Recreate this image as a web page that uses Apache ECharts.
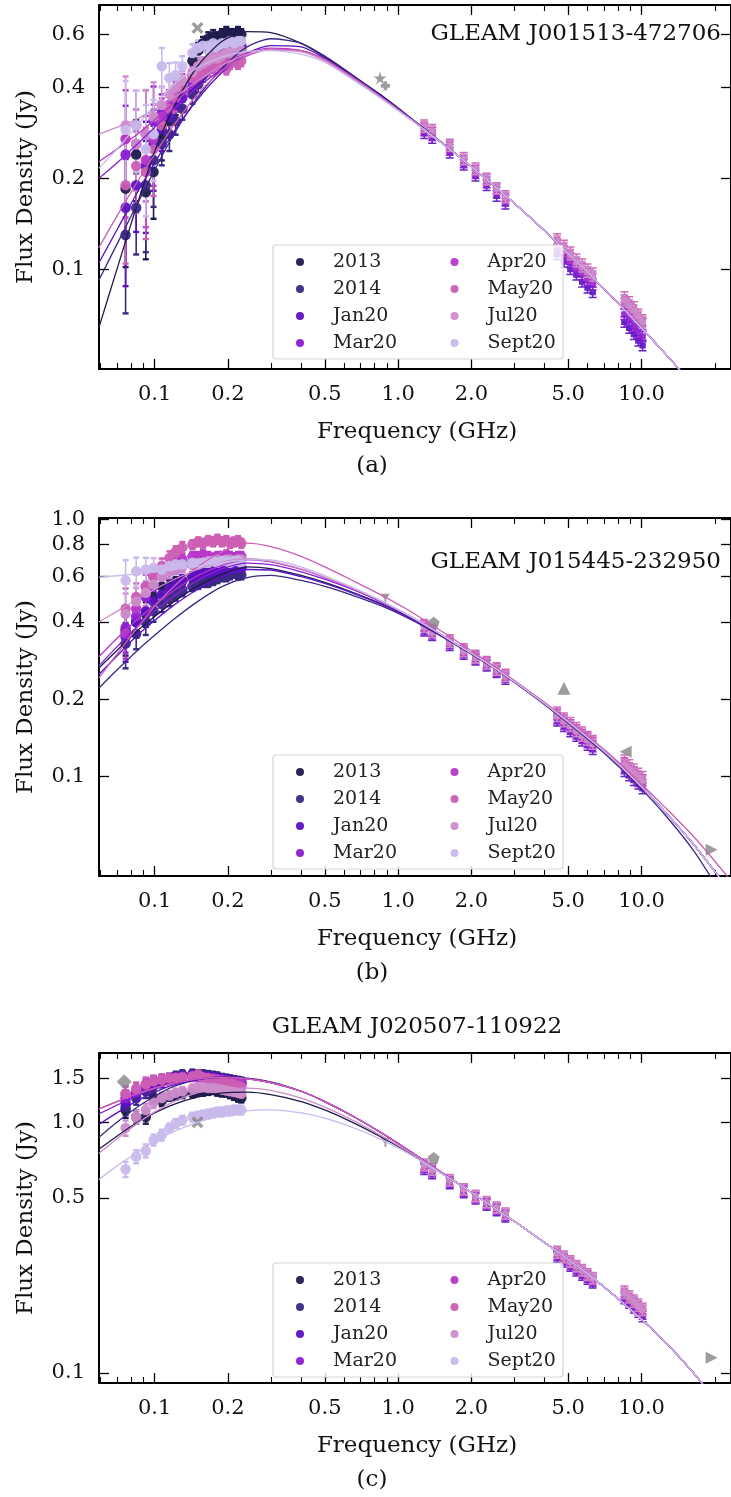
<!DOCTYPE html>
<html><head><meta charset="utf-8">
<script src="https://cdn.jsdelivr.net/npm/echarts@6/dist/echarts.min.js"></script>
<style>html,body{margin:0;padding:0;background:#fff}#c{width:731px;height:1497px}</style>
</head><body><div id="c"></div>
<script>
// ---------------- data ----------------
const EPOCHS = ['2013','2014','Jan20','Mar20','Apr20','May20','Jul20','Sept20'];
const COLORS = ['#1f1b4d','#3b2883','#5b12c2','#8b1fd2','#b637c9','#cc5eb4','#cd8dcb','#c9b9ec'];
const ATCA_EPOCHS = ['Jan20','Mar20','Apr20','May20','Jul20'];
const MWA_FREQ = [0.076,0.084,0.092,0.099,0.107,0.115,0.122,0.130,0.143,0.151,0.158,0.166,0.174,0.181,0.189,0.197,0.204,0.212,0.220,0.227];
const ATCA_FREQ = [1.28,1.38,1.63,1.86,2.08,2.31,2.54,2.76, 4.5,4.8,5.1,5.4,5.7,6.0,6.3, 8.5,8.9,9.3,9.7,10.1];
// fitted-curve sample frequencies (GHz)
const CURVE_FREQ = [0.059,0.07,0.085,0.1,0.12,0.15,0.19,0.24,0.3,0.4,0.5,0.65,0.85,1.1,1.4,1.8,2.4,3.2,4.2,5.5,7.2,9.5,12.5,16.5,23];
const X_TICKS = [0.1,0.2,0.5,1,2,5,10];
const X_TICK_LABELS = ['0.1','0.2','0.5','1.0','2.0','5.0','10.0'];
const X_MINOR = [0.06,0.07,0.08,0.09,0.3,0.4,0.6,0.7,0.8,0.9,3,4,6,7,8,9,20];
const X_RANGE = [0.0591, 23.3];

// Panel (a)
const A_SOURCE = 'GLEAM J001513-472706';
const A_Y_RANGE = [0.0468, 0.750];
const A_Y_TICKS = [0.1,0.2,0.4,0.6];
const A_Y_LABELS = ['0.1','0.2','0.4','0.6'];
const A_MWA = [
 [0.185,0.24,0.18,0.21,0.27,0.31,0.36,0.40,0.49,0.53,0.56,0.58,0.59,0.58,0.60,0.61,0.60,0.60,0.61,0.60],
 [0.13,0.16,0.19,0.23,0.26,0.28,0.31,0.34,0.38,0.41,0.44,0.46,0.48,0.50,0.51,0.52,0.53,0.54,0.55,0.55],
 [0.16,0.19,0.22,0.26,0.29,0.32,0.35,0.37,0.40,0.43,0.45,0.47,0.49,0.50,0.51,0.52,0.52,0.53,0.53,0.54],
 [0.24,0.26,0.28,0.31,0.33,0.35,0.37,0.39,0.42,0.44,0.46,0.48,0.49,0.50,0.51,0.51,0.52,0.52,0.53,0.53],
 [0.27,0.30,0.23,0.27,0.32,0.35,0.38,0.41,0.44,0.45,0.47,0.48,0.49,0.50,0.50,0.51,0.52,0.52,0.53,0.52],
 [0.19,0.22,0.21,0.25,0.30,0.34,0.37,0.40,0.43,0.44,0.45,0.46,0.47,0.47,0.48,0.46,0.48,0.49,0.48,0.49],
 [0.30,0.26,0.28,0.32,0.35,0.38,0.40,0.42,0.45,0.47,0.48,0.49,0.50,0.50,0.51,0.52,0.52,0.53,0.53,0.53],
 [0.29,0.30,0.25,0.28,0.47,0.43,0.44,0.47,0.52,0.54,0.55,0.55,0.56,0.55,0.56,0.56,0.57,0.56,0.57,0.57]
];
const A_MWA_ERR = [0.45,0.3,0.4,0.3,0.15,0.12,0.1,0.08,0.07,0.06,0.05,0.05,0.05,0.05,0.04,0.04,0.04,0.04,0.04,0.04];
const A_ATCA = [
 [0.282,0.272,0.243,0.222,0.204,0.19,0.175,0.165, 0.112,0.106,0.1,0.096,0.091,0.087,0.084, 0.067,0.064,0.061,0.058,0.056],
 [0.288,0.278,0.249,0.226,0.208,0.194,0.18,0.169, 0.116,0.11,0.105,0.1,0.096,0.092,0.089, 0.071,0.068,0.065,0.062,0.06],
 [0.294,0.284,0.254,0.23,0.212,0.198,0.184,0.172, 0.121,0.115,0.109,0.104,0.1,0.096,0.093, 0.077,0.074,0.071,0.068,0.066],
 [0.3,0.29,0.259,0.234,0.216,0.2,0.186,0.175, 0.126,0.12,0.114,0.108,0.104,0.1,0.097, 0.081,0.078,0.075,0.071,0.068],
 [0.296,0.286,0.256,0.231,0.214,0.198,0.185,0.173, 0.124,0.118,0.112,0.106,0.102,0.098,0.095, 0.079,0.076,0.073,0.07,0.067]
];
// fitted curves: per-epoch part (0.059 - 1.4 GHz) + shared high-frequency part (1.8 - 23 GHz)
const A_CURVE_LOW = [
 [0.064,0.10,0.165,0.245,0.345,0.47,0.57,0.612,0.608,0.56,0.505,0.437,0.378,0.322,0.276],
 [0.092,0.121,0.165,0.213,0.28,0.37,0.465,0.545,0.58,0.56,0.508,0.44,0.377,0.321,0.276],
 [0.105,0.135,0.18,0.225,0.285,0.365,0.45,0.52,0.55,0.545,0.50,0.435,0.374,0.32,0.275],
 [0.20,0.225,0.26,0.295,0.34,0.40,0.46,0.51,0.535,0.53,0.495,0.432,0.372,0.319,0.275],
 [0.227,0.25,0.28,0.312,0.355,0.415,0.475,0.52,0.54,0.53,0.495,0.432,0.372,0.319,0.275],
 [0.118,0.15,0.195,0.24,0.30,0.38,0.455,0.51,0.535,0.53,0.495,0.432,0.372,0.319,0.275],
 [0.28,0.295,0.315,0.338,0.37,0.42,0.475,0.515,0.532,0.525,0.49,0.428,0.37,0.318,0.275],
 [0.216,0.25,0.30,0.35,0.41,0.465,0.505,0.527,0.53,0.515,0.485,0.425,0.368,0.317,0.274]
];
const A_CURVE_HIGH = [0.2347,0.1935,0.158,0.1292,0.1048,0.0844,0.0668,0.0526,0.0409,0.0299];
const A_CAT_FREQ = [0.15,0.843,0.887];
const A_CAT_FLUX = [0.63,0.43,0.405];
const A_CAT_SHAPE = ['X','star','plus'];

// Panel (b)
const B_SOURCE = 'GLEAM J015445-232950';
const B_Y_RANGE = [0.0411, 1.015];
const B_Y_TICKS = [0.1,0.2,0.4,0.6,0.8,1.0];
const B_Y_LABELS = ['0.1','0.2','0.4','0.6','0.8','1.0'];
const B_MWA = [
 [0.37,0.40,0.43,0.50,0.55,0.55,0.57,0.58,0.60,0.61,0.62,0.62,0.63,0.63,0.64,0.64,0.65,0.65,0.64,0.65],
 [0.33,0.36,0.40,0.44,0.47,0.49,0.51,0.53,0.55,0.56,0.57,0.57,0.58,0.59,0.60,0.60,0.61,0.62,0.61,0.61],
 [0.35,0.40,0.44,0.48,0.51,0.54,0.56,0.58,0.60,0.61,0.62,0.62,0.63,0.64,0.64,0.65,0.65,0.65,0.66,0.65],
 [0.38,0.42,0.50,0.55,0.60,0.63,0.65,0.66,0.68,0.69,0.69,0.70,0.70,0.70,0.71,0.70,0.70,0.71,0.70,0.70],
 [0.36,0.45,0.55,0.60,0.63,0.66,0.68,0.70,0.72,0.72,0.73,0.72,0.71,0.72,0.72,0.73,0.72,0.71,0.72,0.72],
 [0.45,0.50,0.55,0.60,0.66,0.71,0.75,0.78,0.80,0.82,0.81,0.83,0.82,0.84,0.82,0.83,0.81,0.82,0.83,0.81],
 [0.43,0.48,0.52,0.56,0.60,0.63,0.65,0.66,0.67,0.68,0.68,0.69,0.69,0.70,0.69,0.70,0.70,0.69,0.70,0.70],
 [0.58,0.63,0.64,0.65,0.64,0.66,0.67,0.67,0.68,0.67,0.68,0.68,0.69,0.68,0.69,0.69,0.68,0.69,0.69,0.68]
];
const B_MWA_ERR = [0.2,0.13,0.11,0.09,0.07,0.06,0.05,0.05,0.04,0.04,0.04,0.04,0.04,0.04,0.04,0.04,0.04,0.04,0.04,0.04];
const B_ATCA = [
 [0.37,0.355,0.325,0.3,0.285,0.27,0.255,0.24, 0.165,0.157,0.15,0.144,0.138,0.133,0.128, 0.105,0.101,0.097,0.094,0.09],
 [0.375,0.36,0.33,0.305,0.288,0.273,0.258,0.244, 0.168,0.16,0.153,0.147,0.141,0.136,0.131, 0.108,0.104,0.1,0.096,0.093],
 [0.385,0.368,0.336,0.31,0.292,0.277,0.262,0.248, 0.175,0.166,0.159,0.152,0.146,0.141,0.136, 0.113,0.108,0.104,0.1,0.097],
 [0.39,0.372,0.34,0.314,0.296,0.28,0.265,0.25, 0.178,0.169,0.162,0.155,0.149,0.143,0.138, 0.116,0.111,0.107,0.103,0.1],
 [0.382,0.365,0.334,0.308,0.29,0.275,0.26,0.246, 0.172,0.164,0.157,0.15,0.144,0.139,0.134, 0.111,0.107,0.103,0.099,0.096]
];
const B_CURVE_LOW = [
 [0.265,0.31,0.37,0.42,0.48,0.55,0.615,0.655,0.645,0.607,0.57,0.522,0.472,0.42,0.37],
 [0.221,0.26,0.31,0.355,0.41,0.48,0.55,0.595,0.607,0.58,0.55,0.508,0.463,0.414,0.366],
 [0.25,0.295,0.355,0.405,0.465,0.535,0.60,0.64,0.637,0.60,0.565,0.518,0.469,0.418,0.369],
 [0.27,0.32,0.385,0.44,0.505,0.58,0.645,0.678,0.668,0.627,0.587,0.535,0.479,0.424,0.372],
 [0.293,0.345,0.41,0.465,0.53,0.605,0.665,0.698,0.685,0.64,0.595,0.54,0.482,0.425,0.372],
 [0.242,0.30,0.38,0.46,0.55,0.655,0.75,0.81,0.785,0.72,0.655,0.58,0.51,0.445,0.385],
 [0.40,0.44,0.49,0.535,0.585,0.64,0.685,0.705,0.69,0.643,0.597,0.541,0.483,0.425,0.372],
 [0.598,0.605,0.615,0.626,0.64,0.658,0.68,0.697,0.698,0.655,0.605,0.545,0.484,0.425,0.372]
];
const B_CURVE_HIGH = [0.321,0.271,0.225,0.186,0.152,0.123,0.096,0.073,0.054,0.036];
const B_CURVE_HIGH_2014 = [0.318,0.269,0.223,0.184,0.15,0.121,0.094,0.071,0.051,0.031];
const B_CURVE_HIGH_MAY20 = [0.33,0.275,0.227,0.188,0.154,0.125,0.098,0.076,0.058,0.040];
const B_CAT_FREQ = [0.887,1.4,4.8,8.6,19.4];
const B_CAT_FLUX = [0.495,0.397,0.221,0.125,0.052];
const B_CAT_SHAPE = ['tri_down','pentagon','triangle','tri_left','tri_right'];

// Panel (c)
const C_SOURCE = 'GLEAM J020507-110922';
const C_Y_RANGE = [0.0912, 1.89];
const C_Y_TICKS = [0.1,0.5,1.0,1.5];
const C_Y_LABELS = ['0.1','0.5','1.0','1.5'];
const C_MWA = [
 [1.12,1.05,1.05,1.25,1.22,1.27,1.28,1.30,1.31,1.33,1.33,1.34,1.35,1.33,1.32,1.32,1.30,1.28,1.26,1.25],
 [1.15,1.25,1.33,1.40,1.45,1.50,1.53,1.55,1.56,1.55,1.55,1.54,1.53,1.52,1.50,1.49,1.48,1.47,1.46,1.45],
 [1.20,1.30,1.38,1.43,1.46,1.49,1.51,1.53,1.54,1.54,1.53,1.52,1.51,1.50,1.49,1.48,1.47,1.46,1.45,1.44],
 [1.25,1.32,1.40,1.45,1.47,1.50,1.51,1.52,1.53,1.53,1.52,1.51,1.50,1.49,1.48,1.47,1.46,1.45,1.44,1.43],
 [1.30,1.35,1.42,1.46,1.48,1.50,1.51,1.52,1.53,1.52,1.51,1.50,1.49,1.48,1.47,1.46,1.45,1.44,1.43,1.42],
 [1.30,1.36,1.42,1.46,1.48,1.50,1.50,1.51,1.52,1.55,1.51,1.50,1.48,1.47,1.45,1.44,1.43,1.42,1.40,1.38],
 [0.95,1.05,1.12,1.20,1.25,1.28,1.31,1.33,1.36,1.38,1.38,1.37,1.37,1.36,1.35,1.34,1.33,1.32,1.31,1.30],
 [0.65,0.73,0.77,0.85,0.89,0.95,0.99,1.02,1.05,1.06,1.07,1.08,1.09,1.10,1.10,1.11,1.11,1.12,1.12,1.12]
];
const C_MWA_ERR = [0.07,0.06,0.06,0.05,0.05,0.04,0.04,0.04,0.04,0.04,0.04,0.04,0.04,0.04,0.04,0.04,0.04,0.04,0.04,0.04];
const C_ATCA = [
 [0.65,0.625,0.57,0.525,0.495,0.468,0.445,0.42, 0.29,0.278,0.267,0.256,0.246,0.237,0.229, 0.198,0.19,0.182,0.175,0.168],
 [0.66,0.635,0.578,0.532,0.5,0.473,0.45,0.425, 0.295,0.283,0.271,0.26,0.25,0.241,0.233, 0.202,0.194,0.186,0.179,0.172],
 [0.67,0.643,0.585,0.538,0.505,0.478,0.454,0.43, 0.3,0.288,0.276,0.265,0.255,0.245,0.237, 0.207,0.199,0.191,0.184,0.177],
 [0.68,0.65,0.59,0.542,0.51,0.482,0.458,0.434, 0.305,0.292,0.28,0.268,0.258,0.248,0.24, 0.212,0.203,0.195,0.188,0.181],
 [0.672,0.645,0.586,0.539,0.506,0.479,0.455,0.431, 0.301,0.289,0.277,0.266,0.256,0.246,0.238, 0.208,0.2,0.192,0.185,0.178]
];
const C_CURVE_LOW = [
 [0.78,0.88,1.0,1.09,1.18,1.26,1.31,1.32,1.29,1.21,1.12,1.0,0.875,0.76,0.655],
 [0.87,1.0,1.15,1.27,1.39,1.48,1.52,1.50,1.45,1.33,1.21,1.06,0.91,0.775,0.662],
 [0.98,1.09,1.22,1.32,1.41,1.48,1.51,1.49,1.44,1.33,1.21,1.06,0.91,0.775,0.662],
 [1.08,1.17,1.28,1.36,1.43,1.49,1.51,1.49,1.44,1.33,1.21,1.06,0.91,0.775,0.662],
 [1.13,1.21,1.30,1.37,1.43,1.49,1.51,1.49,1.44,1.33,1.21,1.06,0.91,0.775,0.662],
 [1.13,1.21,1.30,1.37,1.43,1.49,1.51,1.49,1.44,1.33,1.21,1.06,0.91,0.775,0.662],
 [0.75,0.86,0.99,1.1,1.21,1.31,1.36,1.37,1.34,1.25,1.15,1.02,0.885,0.765,0.658],
 [0.59,0.67,0.76,0.84,0.92,1.0,1.07,1.11,1.12,1.09,1.04,0.955,0.855,0.752,0.652]
];
const C_CURVE_HIGH = [0.562,0.466,0.386,0.32,0.265,0.216,0.171,0.133,0.099,0.066];
const C_CAT_FREQ = [0.075,0.15,0.887,1.4,19.4];
const C_CAT_FLUX = [1.45,1.0,0.83,0.72,0.115];
const C_CAT_SHAPE = ['diamond','X','tri_down','pentagon','tri_right'];

// ---------------- layout & style ----------------
const FONT = "'DejaVu Serif', serif";
const PLOT_LEFT = 99, PLOT_WIDTH = 636;
const PANELS = [
 {src:A_SOURCE, yr:A_Y_RANGE, yt:A_Y_TICKS, yl:A_Y_LABELS, mwa:A_MWA, err:A_MWA_ERR, atca:A_ATCA,
  curves:A_CURVE_LOW.map(c=>c.concat(A_CURVE_HIGH)),
  cf:A_CAT_FREQ, cv:A_CAT_FLUX, cs:A_CAT_SHAPE, top:5, height:364, legTop:245, caption:'(a)', srcPos:'inside', srcY:34},
 {src:B_SOURCE, yr:B_Y_RANGE, yt:B_Y_TICKS, yl:B_Y_LABELS, mwa:B_MWA, err:B_MWA_ERR, atca:B_ATCA,
  curves:B_CURVE_LOW.map((c,e)=>c.concat(e===1 ? B_CURVE_HIGH_2014 : e===5 ? B_CURVE_HIGH_MAY20 : B_CURVE_HIGH)),
  cf:B_CAT_FREQ, cv:B_CAT_FLUX, cs:B_CAT_SHAPE, top:518, height:358, legTop:755, caption:'(b)', srcPos:'inside', srcY:562},
 {src:C_SOURCE, yr:C_Y_RANGE, yt:C_Y_TICKS, yl:C_Y_LABELS, mwa:C_MWA, err:C_MWA_ERR, atca:C_ATCA,
  curves:C_CURVE_LOW.map(c=>c.concat(C_CURVE_HIGH)),
  cf:C_CAT_FREQ, cv:C_CAT_FLUX, cs:C_CAT_SHAPE, top:1053, height:330, legTop:1263, caption:'(c)', srcPos:'title', srcY:1027}
];
const SHAPES = {
  X:{s:'path://M2,0 L5,3 L8,0 L10,2 L7,5 L10,8 L8,10 L5,7 L2,10 L0,8 L3,5 L0,2 Z', size:12},
  star:{s:'path://M50,0 L61,35 L98,35 L68,57 L79,91 L50,70 L21,91 L32,57 L2,35 L39,35 Z', size:13},
  plus:{s:'path://M3,0 H7 V3 H10 V7 H7 V10 H3 V7 H0 V3 H3 Z', size:9},
  diamond:{s:'diamond', size:15},
  pentagon:{s:'path://M50,0 L98,35 L79,91 L21,91 L2,35 Z', size:12},
  triangle:{s:'triangle', size:13},
  tri_down:{s:'path://M0,0 L10,0 L6,6 L6,10 L4,10 L4,6 Z', size:9},
  tri_left:{s:'path://M0,5 L10,0 L10,10 Z', size:12},
  tri_right:{s:'path://M0,0 L10,5 L0,10 Z', size:12}
};
const ATCA_SYMBOL = 'path://M0,0 H10 V2 H6 V4 H9 V12 H6 V14 H10 V16 H0 V14 H4 V12 H1 V4 H4 V2 H0 Z';
const LOG = Math.log10;
const labelFor = (ticks, labels) => v => { for (let i=0;i<ticks.length;i++) if (Math.abs(LOG(ticks[i])-v)<1e-6) return labels[i]; return ''; };

const grid=[], xAxis=[], yAxis=[], series=[], legend=[], graphic=[];
const lineBlack = {color:'#000', width:2};
const textStyle = (size, align) => ({font:size+"px 'DejaVu Serif'", fontSize:size, fontFamily:FONT, fill:'#111',
  align:align, verticalAlign:'middle', textAlign:align, textVerticalAlign:'middle'});

PANELS.forEach((P,g)=>{
  grid.push({left:PLOT_LEFT, width:PLOT_WIDTH, top:P.top, height:P.height, containLabel:false});
  const xb = 5*g, yb = 3*g;
  const lx = [LOG(X_RANGE[0]), LOG(X_RANGE[1])];
  const ly = [LOG(P.yr[0]), LOG(P.yr[1])];
  xAxis.push({type:'log', gridIndex:g, min:X_RANGE[0], max:X_RANGE[1], show:false});
  const xt = X_TICKS.map(LOG), xm = X_MINOR.map(LOG);
  xAxis.push({type:'value', gridIndex:g, position:'bottom', min:lx[0], max:lx[1],
    axisLine:{show:true,onZero:false,lineStyle:lineBlack},
    axisTick:{show:true,inside:true,length:10,customValues:xt,lineStyle:{color:'#000',width:1.3}},
    axisLabel:{show:true,customValues:xt,formatter:labelFor(X_TICKS,X_TICK_LABELS),margin:15,fontFamily:FONT,fontSize:21,color:'#111'},
    splitLine:{show:false}});
  xAxis.push({type:'value', gridIndex:g, position:'bottom', min:lx[0], max:lx[1],
    axisLine:{show:false,onZero:false}, axisTick:{show:true,inside:true,length:6,customValues:xm,lineStyle:{color:'#000',width:1.1}},
    axisLabel:{show:false}, splitLine:{show:false}});
  xAxis.push({type:'value', gridIndex:g, position:'top', min:lx[0], max:lx[1],
    axisLine:{show:true,onZero:false,lineStyle:lineBlack},
    axisTick:{show:true,inside:true,length:10,customValues:xt,lineStyle:{color:'#000',width:1.3}},
    axisLabel:{show:false}, splitLine:{show:false}});
  xAxis.push({type:'value', gridIndex:g, position:'top', min:lx[0], max:lx[1],
    axisLine:{show:false,onZero:false}, axisTick:{show:true,inside:true,length:6,customValues:xm,lineStyle:{color:'#000',width:1.1}},
    axisLabel:{show:false}, splitLine:{show:false}});
  yAxis.push({type:'log', gridIndex:g, min:P.yr[0], max:P.yr[1], show:false});
  const yt = P.yt.map(LOG);
  yAxis.push({type:'value', gridIndex:g, position:'left', min:ly[0], max:ly[1],
    axisLine:{show:true,onZero:false,lineStyle:lineBlack},
    axisTick:{show:true,inside:true,length:10,customValues:yt,lineStyle:{color:'#000',width:1.3}},
    axisLabel:{show:true,customValues:yt,formatter:labelFor(P.yt,P.yl),margin:14,fontFamily:FONT,fontSize:21,color:'#111'},
    splitLine:{show:false}});
  yAxis.push({type:'value', gridIndex:g, position:'right', min:ly[0], max:ly[1],
    axisLine:{show:true,onZero:false,lineStyle:lineBlack},
    axisTick:{show:true,inside:true,length:10,customValues:yt,lineStyle:{color:'#000',width:1.3}},
    axisLabel:{show:false}, splitLine:{show:false}});

  EPOCHS.forEach((name,e)=>{
    const col = COLORS[e];
    series.push({type:'scatter', name, xAxisIndex:xb, yAxisIndex:yb, symbol:'circle', symbolSize:10.5, z:2,
      itemStyle:{color:col, opacity:0.95}, silent:true,
      data: MWA_FREQ.map((f,i)=>[f, P.mwa[e][i]])});
    series.push({type:'custom', name, xAxisIndex:xb, yAxisIndex:yb, clip:true, silent:true, z:2,
      data: MWA_FREQ.map((f,i)=>[f, P.mwa[e][i]*(1-P.err[i]), P.mwa[e][i]*(1+P.err[i])]),
      encode:{x:0,y:[1,2]},
      renderItem:(params,api)=>{
        const lo = api.coord([api.value(0), api.value(1)]);
        const hi = api.coord([api.value(0), api.value(2)]);
        return {type:'group', children:[
          {type:'line', shape:{x1:lo[0],y1:lo[1],x2:hi[0],y2:hi[1]}, style:{stroke:col,lineWidth:1.6}},
          {type:'line', shape:{x1:lo[0]-3,y1:lo[1],x2:lo[0]+3,y2:lo[1]}, style:{stroke:col,lineWidth:2.4}},
          {type:'line', shape:{x1:hi[0]-3,y1:hi[1],x2:hi[0]+3,y2:hi[1]}, style:{stroke:col,lineWidth:2.4}}
        ]};
      }});
    const ai = ATCA_EPOCHS.indexOf(name);
    if (ai >= 0) {
      series.push({type:'scatter', name, xAxisIndex:xb, yAxisIndex:yb, symbol:ATCA_SYMBOL, symbolSize:[8,12], z:2,
        itemStyle:{color:col, opacity:0.92}, silent:true,
        data: ATCA_FREQ.map((f,i)=>[f, P.atca[ai][i]])});
    }
    series.push({type:'line', name, xAxisIndex:xb, yAxisIndex:yb, showSymbol:false, smooth:0.25,
      lineStyle:{color:col, width:1.3}, itemStyle:{color:col}, z:4, silent:true, clip:true,
      data: CURVE_FREQ.map((f,i)=>[f, P.curves[e][i]])});
  });
  series.push({type:'scatter', name:'catalogue', xAxisIndex:xb, yAxisIndex:yb, z:3, silent:true,
    symbol:(v,p)=>SHAPES[P.cs[p.dataIndex]].s,
    symbolSize:(v,p)=>SHAPES[P.cs[p.dataIndex]].size,
    itemStyle:{color:'#858585'},
    data: P.cf.map((f,i)=>[f, P.cv[i]])});

  const rowTop = P.legTop + 7;
  [0,1].forEach(c=>{
    legend.push({show:true, orient:'vertical', left: c===0 ? 296 : 450.5, top: rowTop, padding:0,
      itemWidth:8, itemHeight:8, itemGap:7, icon:'circle', selectedMode:false, z:20,
      textStyle:{fontFamily:FONT, fontSize:19, lineHeight:20, color:'#222', padding:[0,0,0,24]},
      data: EPOCHS.slice(c*4, c*4+4).map((n,k)=>({name:n, icon:'circle', itemStyle:{color:COLORS[c*4+k]}}))});
  });
  graphic.push({type:'rect', z:15, shape:{x:273, y:P.legTop, width:290, height:114, r:3},
    style:{fill:'rgba(255,255,255,0.82)', stroke:'#d5d5d5', lineWidth:1.2}});

  if (P.srcPos==='inside') {
    graphic.push({type:'text', z:15, x:721, y:P.srcY, style:Object.assign({text:P.src}, textStyle(23,'right'))});
  } else {
    graphic.push({type:'text', z:15, x:417, y:P.srcY, style:Object.assign({text:P.src}, textStyle(23,'center'))});
  }
  const bottom = P.top + P.height;
  graphic.push({type:'text', z:15, x:417, y:bottom+63, style:Object.assign({text:'Frequency (GHz)'}, textStyle(23,'center'))});
  graphic.push({type:'text', z:15, x:372, y:bottom+97, style:Object.assign({text:P.caption}, textStyle(23,'center'))});
  graphic.push({type:'text', z:15, x:26, y:P.top+P.height/2, rotation:Math.PI/2, style:Object.assign({text:'Flux Density (Jy)'}, textStyle(23,'center'))});
});

const chart = echarts.init(document.getElementById('c'), null, {renderer:'canvas'});
chart.setOption({animation:false, backgroundColor:'#fff', grid, xAxis, yAxis, series, legend, graphic});
</script></body></html>
